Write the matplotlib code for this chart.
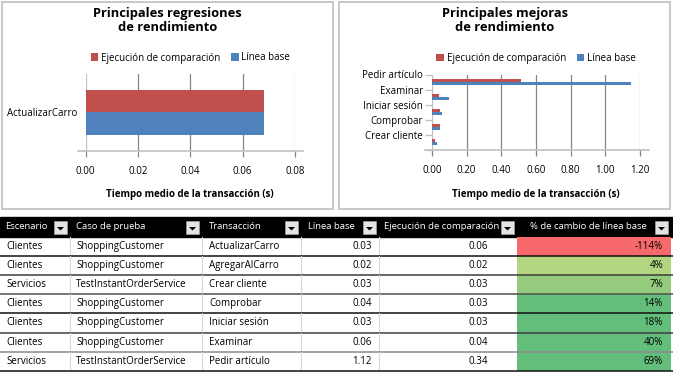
import numpy as np
import matplotlib
matplotlib.use('Agg')
import matplotlib.pyplot as plt
from matplotlib.patches import Rectangle, Polygon

plt.rcParams['font.family'] = ['Open Sans', 'DejaVu Sans']

RED = '#C0504D'
BLUE = '#4F81BD'
GRID_DARK = '#868686'
GRID_LIGHT = '#C0C0C0'

# top regressions chart
regr_names = ['ActualizarCarro']
regr_comp = [0.068]
regr_base = [0.068]

# top improvements chart (bottom to top)
impr_names = ['Crear cliente', 'Comprobar', 'Iniciar sesión', 'Examinar', 'Pedir artículo']
impr_comp = [0.019, 0.044, 0.048, 0.039, 0.513]
impr_base = [0.027, 0.048, 0.059, 0.100, 1.150]

# table
columns = ['Escenario', 'Caso de prueba', 'Transacción', 'Línea base',
           'Ejecución de comparación', '% de cambio de línea base']
scenarios = ['Clientes', 'Clientes', 'Servicios', 'Clientes', 'Clientes', 'Clientes', 'Servicios']
test_cases = ['ShoppingCustomer', 'ShoppingCustomer', 'TestInstantOrderService', 'ShoppingCustomer',
              'ShoppingCustomer', 'ShoppingCustomer', 'TestInstantOrderService']
transactions = ['ActualizarCarro', 'AgregarAlCarro', 'Crear cliente', 'Comprobar',
                'Iniciar sesión', 'Examinar', 'Pedir artículo']
baseline = [0.03, 0.02, 0.03, 0.04, 0.03, 0.06, 1.12]
comparison = [0.06, 0.02, 0.03, 0.03, 0.03, 0.04, 0.34]
pct_change = [-114, 4, 7, 14, 18, 40, 69]
pct_colors = ['#F8696B', '#B1D580', '#94CB7D', '#63BE7B', '#63BE7B', '#63BE7B', '#63BE7B']
row_line_colors = ['#111111', '#3c3c3c', '#505050', '#111111', '#404040', '#8a8a8a', '#111111']

W, H = 673, 372
fig = plt.figure(figsize=(W / 100, H / 100), dpi=100)


def px_rect(x0, y0, x1, y1):
    return [x0 / W, 1 - y1 / H, (x1 - x0) / W, (y1 - y0) / H]


# overlay in pixel coordinates for frames, titles and the table
ov = fig.add_axes([0, 0, 1, 1])
ov.set_xlim(0, W)
ov.set_ylim(H, 0)
ov.axis('off')

ov.add_patch(Rectangle((1.5, 1.5), 331.5, 207.5, fill=False, ec='#C4C4C4', lw=1.3))
ov.add_patch(Rectangle((338.5, 1.5), 331.5, 207.5, fill=False, ec='#C4C4C4', lw=1.3))
ov.text(167.5, 20.5, 'Principales regresiones\nde rendimiento', ha='center', va='center',
        fontsize=9.3, fontweight='bold', linespacing=1.08)
ov.text(505, 20.5, 'Principales mejoras\nde rendimiento', ha='center', va='center',
        fontsize=9.3, fontweight='bold', linespacing=1.08)


def draw_chart(rect, names, comp, base, xticks, bar_h, label_shift, ext):
    ax = fig.add_axes(px_rect(*rect))
    pos = np.arange(len(names)) + 0.5
    ax.barh(pos + bar_h / 2, comp, bar_h, color=RED, label='Ejecución de comparación', zorder=3)
    ax.barh(pos - bar_h / 2, base, bar_h, color=BLUE, label='Línea base', zorder=3)
    ax.set_xlim(xticks[0], xticks[-1])
    ax.set_ylim(0, len(names))
    ax.set_xticks(xticks)
    ax.set_xticklabels(['%.2f' % v for v in xticks], fontsize=7)
    for s in ax.spines.values():
        s.set_visible(False)
    ax.xaxis.grid(True, color=GRID_DARK, lw=0.9)
    gl = ax.get_xgridlines()
    gl[0].set_color(GRID_LIGHT)
    gl[-1].set_color(GRID_LIGHT)
    ax.tick_params(axis='x', length=4, width=0.9, color=GRID_DARK, pad=6.5)
    mt = ax.xaxis.get_major_ticks()
    mt[0].tick1line.set_color(GRID_LIGHT)
    mt[-1].tick1line.set_color(GRID_LIGHT)
    ax.axhline(0, xmin=-ext[0], xmax=1 + ext[1], color=GRID_LIGHT, lw=1.2, clip_on=False, zorder=4)
    if label_shift:
        ax.set_yticks(np.arange(len(names) + 1))
        ax.set_yticklabels([''] + names, fontsize=7)
        ax.tick_params(axis='y', length=5, width=0.9, color=GRID_LIGHT, pad=1.5)
    else:
        ax.set_yticks(pos)
        ax.set_yticklabels(names, fontsize=7)
        ax.tick_params(axis='y', length=0, pad=5.5)
    ax.set_xlabel('Tiempo medio de la transacción (s)', fontsize=7, fontweight='bold', va='center')
    ax.xaxis.set_label_coords(0.5, -(195 - rect[3]) / (rect[3] - rect[1]))
    ax.legend(loc='center', bbox_to_anchor=(0.5, 1 + 16 / (rect[3] - rect[1])), ncol=2,
              frameon=False, fontsize=7, handlelength=0.8, handleheight=0.8,
              handletextpad=0.25, columnspacing=1.1, borderaxespad=0, borderpad=0)
    return ax


draw_chart((85.5, 74, 295, 151), regr_names, regr_comp, regr_base,
           [0.0, 0.02, 0.04, 0.06, 0.08], 0.286, False, (0.034, 0.036))
draw_chart((432, 74.5, 640, 150), impr_names, impr_comp, impr_base,
           [0.0, 0.2, 0.4, 0.6, 0.8, 1.0, 1.2], 0.2, True, (0.034, 0.043))

# table
col_edges = [0, 70, 202, 301, 379, 517, 671]
head_pad = [5, 6, 7, 7, 5, 13]
header_top, header_bot = 217, 236.5
row_h = 19.2

ov.add_patch(Rectangle((0, header_top), W, header_bot - header_top, color='black'))
for i, name in enumerate(columns):
    ov.text(col_edges[i] + head_pad[i], (header_top + header_bot) / 2, name, color='white',
            fontsize=6.8, ha='left', va='center')
    bx = col_edges[i + 1] - 16
    ov.add_patch(Rectangle((bx, 221), 13, 13, fc='#E4E4E4', ec='#9A9A9A', lw=0.6))
    cx = bx + 6.5
    ov.add_patch(Polygon([(cx - 3.5, 227), (cx + 3.5, 227), (cx, 230.5)], closed=True,
                         fc='black', ec='none'))

for r in range(len(transactions)):
    y0 = header_bot + r * row_h
    y1 = y0 + row_h
    yc = (y0 + y1) / 2
    ov.add_patch(Rectangle((col_edges[5], y0), col_edges[6] - col_edges[5], row_h,
                           color=pct_colors[r], lw=0))
    for xe in col_edges[1:5]:
        ov.plot([xe, xe], [y0, y1], color='#D3D8E6', lw=0.8)
    ov.plot([0, W], [y1, y1], color=row_line_colors[r], lw=1.1)
    ov.text(6, yc, scenarios[r], fontsize=7, ha='left', va='center')
    ov.text(col_edges[1] + 6, yc, test_cases[r], fontsize=7, ha='left', va='center')
    ov.text(col_edges[2] + 7, yc, transactions[r], fontsize=7, ha='left', va='center')
    ov.text(372, yc, '%.2f' % baseline[r], fontsize=7, ha='right', va='center')
    ov.text(488, yc, '%.2f' % comparison[r], fontsize=7, ha='right', va='center')
    ov.text(663, yc, '%d%%' % pct_change[r], fontsize=7, ha='right', va='center')

fig.savefig('out.png', dpi=100)
